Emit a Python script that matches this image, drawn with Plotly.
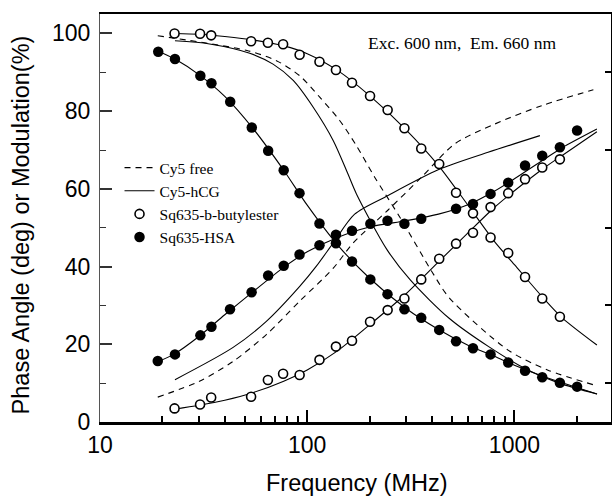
import plotly.graph_objects as go

# ---------------- data ----------------
# Sq635-b-butylester (open circles)
freq_open = [22.9, 30.4, 34.4, 53.6, 64.6, 76.5, 91.9, 114.6, 137.6, 164.5, 201, 244.4,
             294.5, 355, 433.5, 522.7, 631, 767, 933, 1125, 1362, 1657]
mod_open = [100.0, 99.9, 99.5, 98.0, 97.6, 97.2, 94.5, 92.7, 90.6, 87.3, 83.9, 80.3,
            75.6, 70.4, 66.4, 59.0, 53.7, 47.5, 43.5, 37.3, 31.8, 27.1]
phase_open = [3.5, 4.5, 6.3, 6.5, 10.8, 12.4, 12.1, 16.0, 19.4, 20.9, 25.8, 28.8,
              31.8, 36.7, 42.0, 45.9, 48.7, 55.3, 58.9, 62.5, 65.5, 67.6]

# Sq635-HSA (filled circles)
freq_hsa_mod = [19.1, 23.0, 30.5, 34.5, 42.5, 54.0, 64.8, 77.0, 91.8, 114.6, 137.6, 164.5,
                201.7, 244, 294.5, 355, 433.5, 522.7, 631, 767, 933, 1125, 1362, 1657, 2006]
mod_hsa = [95.3, 93.4, 89.1, 87.2, 82.4, 75.8, 69.8, 64.8, 58.9, 51.1, 46.0, 41.3,
           36.7, 32.9, 29.0, 26.8, 23.7, 20.8, 19.0, 17.4, 15.3, 13.2, 11.5, 10.1, 9.1]
freq_hsa_phase = [19.0, 23.0, 30.5, 34.5, 42.4, 53.9, 64.8, 77.0, 91.8, 114.6, 137.6, 164.5,
                  201.7, 244, 294.5, 355, 522.7, 631, 767, 933, 1125, 1362, 1657, 2006]
phase_hsa = [15.7, 17.4, 22.3, 24.5, 29.0, 33.4, 37.7, 40.2, 43.1, 45.5, 48.2, 49.2,
             51.0, 51.8, 51.0, 52.3, 54.9, 56.1, 58.7, 61.6, 66.0, 68.5, 70.7, 75.0]

# fitted curves through the Sq635 data
fit_open_freq = [22.9, 30, 40, 55, 77, 100, 140, 200, 300, 430, 600, 800, 1000, 1400, 1700, 2500]
fit_open_mod = [100.0, 99.8, 99.2, 98.3, 96.8, 94.8, 90.5, 84.0, 75.2, 66.0, 55.6, 46.5,
                40.5, 31.5, 26.8, 19.8]
fit_open_phase = [3.3, 4.3, 5.6, 7.6, 10.5, 13.4, 18.3, 25.0, 33.0, 41.2, 48.8, 55.2,
                  59.5, 65.5, 68.6, 74.7]
fit_hsa_freq = [19, 23, 30, 40, 55, 77, 100, 140, 200, 300, 430, 600, 800, 1000, 1400, 1700, 2500]
fit_hsa_mod = [95.5, 93.4, 89.4, 83.8, 75.4, 64.8, 55.8, 45.6, 37.0, 29.2, 23.8, 19.7,
               16.9, 14.6, 11.6, 10.1, 7.2]
fit_hsa_phase = [15.5, 17.6, 22.0, 27.6, 33.6, 39.8, 43.8, 47.5, 50.2, 51.8, 53.5, 56.0,
                 59.4, 62.6, 67.7, 70.6, 75.4]

# Cy5 free (dashed)
cy5free_mod_freq = [19.0, 51.2, 71.0, 92.0, 114.9, 143.4, 172.8, 211.6, 280, 407, 484, 932, 1444, 2505]
cy5free_mod = [99.4, 95.6, 93.0, 89.1, 83.6, 77.6, 71.1, 63.0, 52.7, 38.0, 32.0, 18.5, 13.4, 9.3]
cy5free_phase_freq = [19.0, 30.2, 43.9, 63.5, 92.0, 133.6, 166.7, 245, 356, 516, 805, 1352, 2404]
cy5free_phase = [6.4, 10.5, 15.6, 22.5, 31.1, 39.6, 46.1, 54.5, 63.0, 71.6, 76.7, 81.4, 85.5]

# Cy5-hCG (solid)
hcg_mod_freq = [23.0, 33.8, 52.8, 68.4, 85.6, 106.9, 133.6, 157.3, 172.8, 243, 315, 484, 751, 1160, 1644, 2505]
hcg_mod = [98.1, 97.3, 94.9, 92.1, 87.9, 81.0, 72.4, 63.8, 58.7, 44.3, 36.5, 26.7, 19.4, 13.4, 10.0, 7.2]
hcg_phase_freq = [23.0, 43.9, 63.5, 92.0, 110.7, 133.6, 169.4, 245.6, 428.5, 746, 1327]
hcg_phase = [10.9, 19.2, 25.9, 34.9, 40.1, 46.1, 53.5, 58.3, 64.9, 69.4, 73.7]

# axis ticks
x_major = [10, 100, 1000]
x_major_text = ["10", "100", "1000"]
x_minor = [20, 30, 40, 50, 60, 70, 80, 90, 200, 300, 400, 500, 600, 700, 800, 900, 2000]
y_major = [0, 20, 40, 60, 80, 100]
y_minor = [10, 30, 50, 70, 90]

# ---------------- figure ----------------
SANS = "Liberation Sans, Arial, sans-serif"
SERIF = "Liberation Serif, Times New Roman, serif"

fig = go.Figure()

def line(x, y, name=None, dash="solid", show=False, rank=None):
    fig.add_trace(go.Scatter(
        x=x, y=y, mode="lines", name=name, showlegend=show,
        legendrank=rank if rank else 1000,
        line=dict(color="black", width=1.1, dash=dash, shape="spline", smoothing=0.8),
        hoverinfo="skip"))

DASH = "6px,5px"
line(cy5free_mod_freq, cy5free_mod, "Cy5 free", DASH, True, 1)
line(cy5free_phase_freq, cy5free_phase, dash=DASH)
line(hcg_mod_freq, hcg_mod, "Cy5-hCG", "solid", True, 2)
line(hcg_phase_freq, hcg_phase)
line(fit_open_freq, fit_open_mod)
line(fit_open_freq, fit_open_phase)
line(fit_hsa_freq, fit_hsa_mod)
line(fit_hsa_freq, fit_hsa_phase)

open_marker = dict(symbol="circle", size=9, color="white", line=dict(color="black", width=1.6))
filled_marker = dict(symbol="circle", size=10.5, color="black", line=dict(color="black", width=0))

fig.add_trace(go.Scatter(x=freq_open, y=mod_open, mode="markers", name="Sq635-b-butylester",
                         marker=open_marker, showlegend=True, legendrank=3))
fig.add_trace(go.Scatter(x=freq_open, y=phase_open, mode="markers", marker=open_marker,
                         showlegend=False))
fig.add_trace(go.Scatter(x=freq_hsa_mod, y=mod_hsa, mode="markers", name="Sq635-HSA",
                         marker=filled_marker, showlegend=True, legendrank=4))
fig.add_trace(go.Scatter(x=freq_hsa_phase, y=phase_hsa, mode="markers", marker=filled_marker,
                         showlegend=False))

# empty trace that carries the top / right frame axes
fig.add_trace(go.Scatter(x=[None], y=[None], xaxis="x2", yaxis="y2", showlegend=False,
                         hoverinfo="skip"))

XR = [1, 3.466]
YR = [0, 105]

fig.update_layout(
    template="none",
    width=613, height=496, autosize=False,
    margin=dict(l=100, r=2, t=14, b=74, pad=0),
    paper_bgcolor="white", plot_bgcolor="white",
    font=dict(family=SANS, color="black"),
    showlegend=True,
    legend=dict(x=(120 - 100.5) / 510.5, y=(422 - 151) / 408, xanchor="left", yanchor="top",
                bgcolor="rgba(0,0,0,0)", borderwidth=0,
                font=dict(family=SERIF, size=15.5, color="black"),
                itemwidth=30, tracegroupgap=0),
    xaxis=dict(type="log", range=XR, showgrid=False, zeroline=False, automargin=False,
               showline=True, linecolor="black", linewidth=3,
               ticks="inside", ticklen=12, tickwidth=2, tickcolor="black",
               tickvals=x_major, ticktext=x_major_text,
               tickfont=dict(family=SANS, size=23, color="black"),
               minor=dict(ticks="inside", ticklen=6, tickwidth=1.5, tickcolor="black",
                          tickvals=x_minor, showgrid=False)),
    yaxis=dict(range=YR, showgrid=False, zeroline=False, automargin=False,
               showline=True, linecolor="#555555", linewidth=1,
               ticks="inside", ticklen=12, tickwidth=1.5, tickcolor="#333333",
               tickvals=y_major, ticklabelstandoff=4,
               tickfont=dict(family=SANS, size=23, color="black"),
               minor=dict(ticks="inside", ticklen=6, tickwidth=1.2, tickcolor="#333333",
                          tickvals=y_minor, showgrid=False)),
    xaxis2=dict(type="log", range=XR, overlaying="x", side="top", anchor="y", automargin=False,
                showgrid=False, zeroline=False, showline=True, linecolor="black",
                linewidth=2, ticks="", showticklabels=False),
    yaxis2=dict(range=YR, overlaying="y", side="right", anchor="x", automargin=False,
                showgrid=False, zeroline=False, showline=True, linecolor="black",
                linewidth=1, ticks="inside", ticklen=6, tickwidth=2, tickcolor="black",
                tickvals=y_minor, showticklabels=False),
    annotations=[
        dict(text="Exc. 600 nm,&nbsp; Em. 660 nm", xref="paper", yref="paper",
             x=(366 - 100.5) / 510.5, y=(422 - 43.3) / 408, xanchor="left", yanchor="middle",
             showarrow=False, font=dict(family=SERIF, size=17.5, color="black")),
        dict(text="Frequency (MHz)", xref="paper", yref="paper",
             x=(357 - 100.5) / 510.5, y=(422 - 483) / 408, xanchor="center", yanchor="middle",
             showarrow=False, font=dict(family=SANS, size=23.5, color="black")),
        dict(text="Phase Angle (deg) or Modulation(%)", xref="paper", yref="paper",
             x=(22 - 100.5) / 510.5, y=(422 - 225) / 408, xanchor="center", yanchor="middle",
             textangle=-90, showarrow=False, font=dict(family=SANS, size=23.5, color="black")),
    ],
)

fig.write_html("out.html", config={"displayModeBar": False},
               post_script="document.body.style.margin='0px';document.body.style.padding='0px';"
                           "document.body.style.overflow='hidden';")
